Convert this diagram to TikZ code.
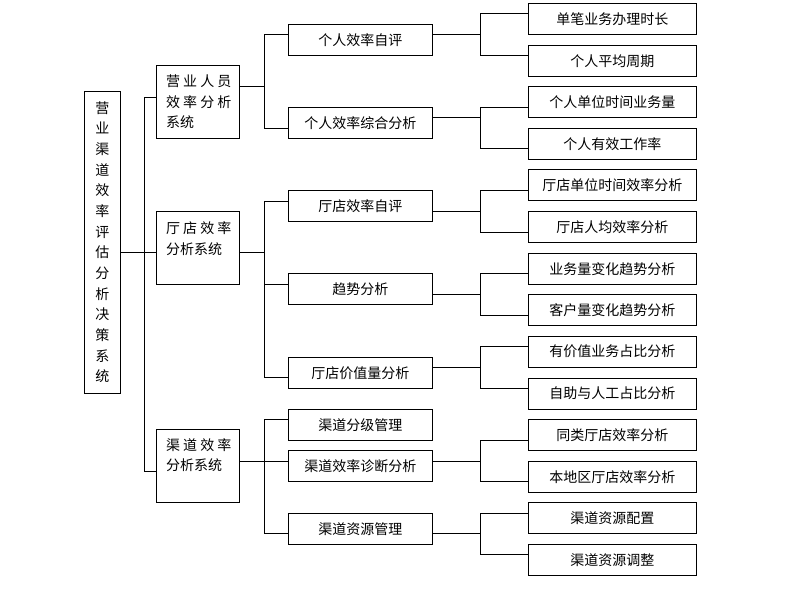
\documentclass[tikz,border=0pt]{standalone}
\usepackage{fontspec}
\setmainfont{Noto Sans CJK SC}
\begin{document}
\begin{tikzpicture}[x=0.75pt,y=-0.75pt,line width=0.75pt,
  box/.style={draw, inner sep=0, font=\fontsize{10.5pt}{15.5pt}\selectfont},
  rootbox/.style={box, minimum width=27pt, minimum height=226.5pt, align=center},
  sysbox/.style={box, minimum width=62pt, minimum height=54.75pt},
  midbox/.style={box, minimum width=108pt, minimum height=23.25pt},
  leafbox/.style={box, minimum width=126pt, minimum height=23.25pt},
  systext/.style={inner sep=0, align=left, anchor=north west, font=\fontsize{10.5pt}{15.4pt}\selectfont},
  conn/.style={draw, line width=0.75pt}]
\useasboundingbox[fill=white] (0,0) rectangle (800,600);
% root
\node[rootbox] (R) at (102.3,242.3) {营\\业\\渠\\道\\效\\率\\评\\估\\分\\析\\决\\策\\系\\统};
% level 1
\node[sysbox] (L1a) at (198,101.8) {};
\node[sysbox] (L1b) at (198,247.8) {};
\node[sysbox] (L1c) at (198,465.8) {};
\node[systext] (T1a) at (165.5,74.5) {营 业 人 员\\效 率 分 析\\系统};
\node[systext] (T1b) at (165.5,221.5) {厅 店 效 率\\分析系统};
\node[systext] (T1c) at (165.5,437.8) {渠 道 效 率\\分析系统};
% level 2
\node[midbox] (A1) at (360.3,39.7) {个人效率自评};
\node[midbox] (A2) at (360.3,122.8) {个人效率综合分析};
\node[midbox] (B1) at (360.3,205.7) {厅店效率自评};
\node[midbox] (B2) at (360.3,288.8) {趋势分析};
\node[midbox] (B3) at (360.3,372.8) {厅店价值量分析};
\node[midbox] (C1) at (360.3,424.8) {渠道分级管理};
\node[midbox] (C2) at (360.3,465.8) {渠道效率诊断分析};
\node[midbox] (C3) at (360.3,528.8) {渠道资源管理};
% level 3
\node[leafbox] (a1) at (612.3,18.8) {单笔业务办理时长};
\node[leafbox] (a2) at (612.3,60.8) {个人平均周期};
\node[leafbox] (a3) at (612.3,102) {个人单位时间业务量};
\node[leafbox] (a4) at (612.3,143.7) {个人有效工作率};
\node[leafbox] (b1) at (612.3,185.3) {厅店单位时间效率分析};
\node[leafbox] (b2) at (612.3,226.8) {厅店人均效率分析};
\node[leafbox] (b3) at (612.3,268.8) {业务量变化趋势分析};
\node[leafbox] (b4) at (612.3,309.8) {客户量变化趋势分析};
\node[leafbox] (b5) at (612.3,351.7) {有价值业务占比分析};
\node[leafbox] (b6) at (612.3,393.5) {自助与人工占比分析};
\node[leafbox] (c1) at (612.3,434.8) {同类厅店效率分析};
\node[leafbox] (c2) at (612.3,476.8) {本地区厅店效率分析};
\node[leafbox] (c3) at (612.3,517.8) {渠道资源配置};
\node[leafbox] (c4) at (612.3,559.8) {渠道资源调整};
% root connectors
\draw (R.east |- 0,252.7) -- (L1b.west |- 0,252.7);
\draw (L1a.west |- 0,97) -- (144.3,97) -- (144.3,471.7) -- (L1c.west |- 0,471.7);
% level1 -> level2
\draw (L1a.east |- 0,86.3) -- (264.3,86.3);
\draw (A1.west |- 0,34) -- (264.3,34) -- (264.3,128.3) -- (A2.west |- 0,128.3);
\draw (L1b.east |- 0,252.7) -- (264.3,252.7);
\draw (B1.west |- 0,201.3) -- (264.3,201.3) -- (264.3,377.3) -- (B3.west |- 0,377.3);
\draw (264.3,284.3) -- (B2.west |- 0,284.3);
\draw (L1c.east |- 0,461.3) -- (C2.west |- 0,461.3);
\draw (C1.west |- 0,419) -- (264.3,419) -- (264.3,533.3) -- (C3.west |- 0,533.3);
% level2 -> level3
\draw (A1.east |- 0,34) -- (480,34);
\draw (a1.west |- 0,13.3) -- (480,13.3) -- (480,55) -- (a2.west |- 0,55);
\draw (A2.east |- 0,117.3) -- (480,117.3);
\draw (a3.west |- 0,107.3) -- (480,107.3) -- (480,148.7) -- (a4.west |- 0,148.7);
\draw (B1.east |- 0,211.3) -- (480,211.3);
\draw (b1.west |- 0,190.3) -- (480,190.3) -- (480,232) -- (b2.west |- 0,232);
\draw (B2.east |- 0,294.7) -- (480,294.7);
\draw (b3.west |- 0,273.3) -- (480,273.3) -- (480,315) -- (b4.west |- 0,315);
\draw (B3.east |- 0,367.3) -- (480,367.3);
\draw (b5.west |- 0,346.7) -- (480,346.7) -- (480,388.3) -- (b6.west |- 0,388.3);
\draw (C2.east |- 0,461.3) -- (480,461.3);
\draw (c1.west |- 0,440.3) -- (480,440.3) -- (480,481.3) -- (c2.west |- 0,481.3);
\draw (C3.east |- 0,533.3) -- (480,533.3);
\draw (c3.west |- 0,513.3) -- (480,513.3) -- (480,554.7) -- (c4.west |- 0,554.7);
\end{tikzpicture}
\end{document}
